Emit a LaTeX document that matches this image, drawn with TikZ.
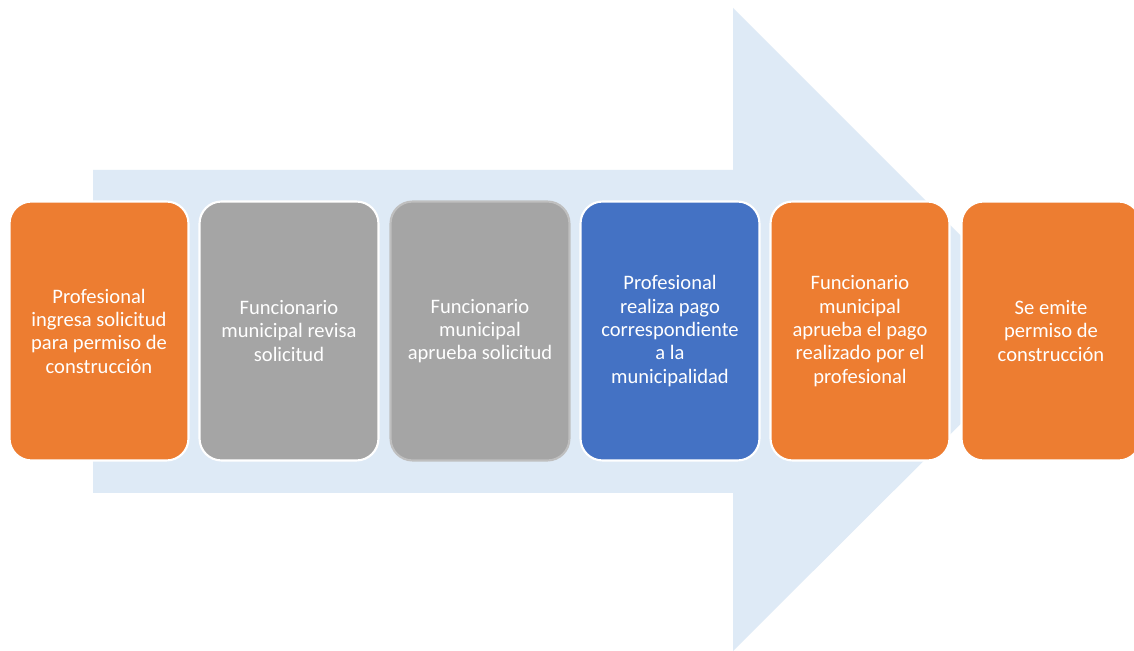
\documentclass[tikz,border=0pt]{standalone}
\usepackage{fontspec}
\setmainfont{Carlito}
\usepackage{tikz}
\usetikzlibrary{calc}
\definecolor{pasoNaranja}{HTML}{ED7D31}
\definecolor{pasoGris}{HTML}{A5A5A5}
\definecolor{pasoAzul}{HTML}{4472C4}
\definecolor{flechaFondo}{HTML}{DEEAF6}
\tikzset{
    stepbox/.style={rounded corners=0.44cm, draw=white, line width=1.2pt,
        minimum width=3.58cm, minimum height=5.18cm, text=white, align=center,
        font=\fontsize{11.7}{13.3}\selectfont},
}

\begin{document}
\begin{tikzpicture}[x=0.02cm, y=-0.02cm]
    \useasboundingbox (0,0) rectangle (1134,651);
    \fill[white] (0,0) rectangle (1134,651);
    % flecha de fondo
    \fill[flechaFondo] (93,170) -- (733,170) -- (733,8) -- (1055,330) -- (733,651) -- (733,493) -- (93,493) -- cycle;
    % pasos
    \node[stepbox, fill=pasoNaranja] (s1) at (99,331) {Profesional\\ingresa solicitud\\para permiso de\\construcción};
    \node[stepbox, fill=pasoGris] (s2) at (289,331) {Funcionario\\municipal revisa\\solicitud};
    \node[stepbox, fill=pasoGris, draw=black!25] (s3) at (480,331) {Funcionario\\municipal\\aprueba solicitud};
    \node[stepbox, fill=pasoAzul] (s4) at (670,331) {Profesional\\realiza pago\\correspondiente\\a la\\municipalidad};
    \node[stepbox, fill=pasoNaranja] (s5) at (860,331) {Funcionario\\municipal\\aprueba el pago\\realizado por el\\profesional};
    \node[stepbox, fill=pasoNaranja] (s6) at (1051,331) {Se emite\\permiso de\\construcción};
\end{tikzpicture}
\end{document}
